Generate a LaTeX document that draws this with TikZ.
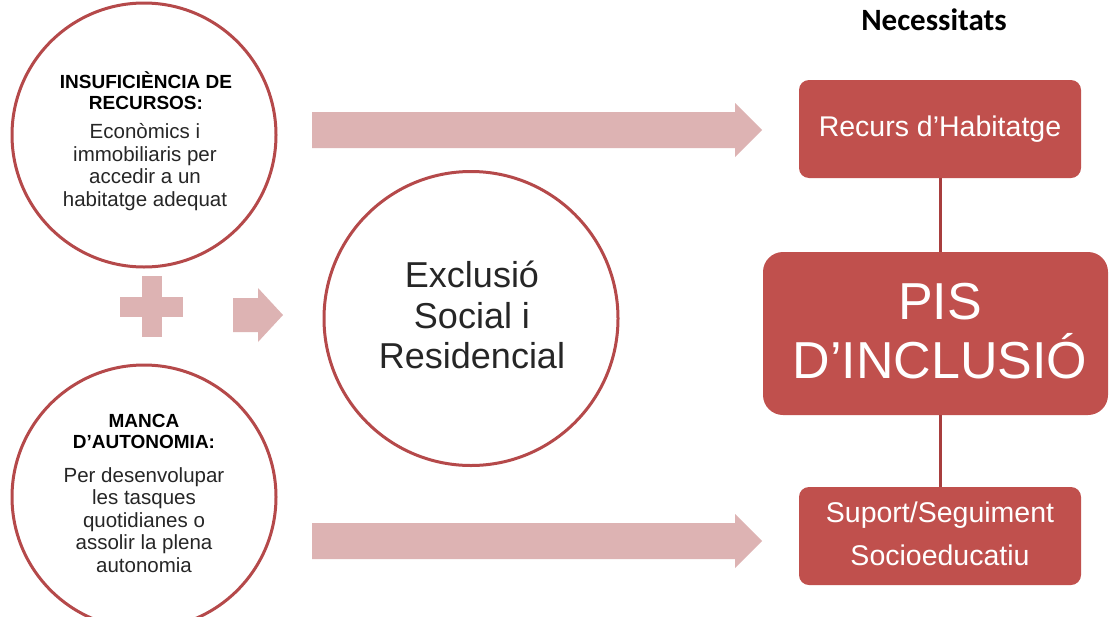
\documentclass[tikz,border=0pt]{standalone}
\usepackage{fontspec}
\setmainfont{Liberation Sans}
\newfontfamily\carl{Carlito}
\definecolor{ringred}{HTML}{B5494A}
\definecolor{boxred}{HTML}{C0504D}
\definecolor{lightpink}{HTML}{DDB3B3}
\definecolor{linered}{HTML}{A83E3E}
\begin{document}
\begin{tikzpicture}[x=1pt,y=-1pt,
  ring/.style={circle,draw=ringred,line width=3pt,fill=white,inner sep=0pt},
  needbox/.style={rounded corners=10pt,fill=boxred,draw=none},
  hdr/.style={font=\fontsize{19}{21}\selectfont\bfseries,align=center,inner sep=0pt},
  body/.style={font=\fontsize{20.5}{22.5}\selectfont,align=center,inner sep=0pt,text=black!85},
  whitetxt/.style={text=white,align=center,inner sep=0pt},
  fatarrow/.style={fill=lightpink,draw=none},
  link/.style={draw=linered,line width=3pt}]
\useasboundingbox (0,0) rectangle (1110,616);
\fill[white] (0,0) rectangle (1110,616);

% left circles
\node[ring,minimum size=264pt] (c1) at (144,135) {};
\node[hdr] (h1) at (146,91) {INSUFICIÈNCIA DE\\RECURSOS:};
\node[body] (b1) at (145,167) {Econòmics i\\immobiliaris per\\accedir a un\\habitatge adequat};

\node[ring,minimum size=264pt] (c2) at (144,497) {};
\node[hdr] (h2) at (144,431) {MANCA\\D’AUTONOMIA:};
\node[body] (b2) at (144,520) {Per desenvolupar\\les tasques\\quotidianes o\\assolir la plena\\autonomia};

% middle circle
\node[ring,minimum size=294pt] (mid) at (471,318.5) {};
\node[font=\fontsize{36}{40.5}\selectfont,align=center,text=black!85,inner sep=0pt] (midt) at (472,315) {Exclusió\\Social i\\Residencial};

% plus sign
\fill[lightpink] (120,297) rectangle (183,317);
\fill[lightpink] (142,276) rectangle (162,337);
% small arrow
\fill[fatarrow] (233,298) -- (258,298) -- (258,288) -- (283,315) -- (258,342) -- (258,332) -- (233,332) -- cycle;

% big arrows
\fill[fatarrow] (312,112) -- (735,112) -- (735,103) -- (762,130) -- (735,157) -- (735,148) -- (312,148) -- cycle;
\fill[fatarrow] (312,523) -- (735,523) -- (735,514) -- (762,541) -- (735,568) -- (735,559) -- (312,559) -- cycle;

% right boxes
\node[needbox,minimum width=282pt,minimum height=98pt] (rec) at (940,129) {};
\node[whitetxt,font=\fontsize{28.5}{30}\selectfont] (rect) at (940,129) {Recurs d’Habitatge};

\node[needbox,rounded corners=20pt,minimum width=345pt,minimum height=163pt] (pis) at (935.5,333.5) {};
\node[whitetxt,font=\fontsize{52}{59}\selectfont] (pist) at (940,331) {PIS\\D’INCLUSIÓ};

\node[needbox,minimum width=282pt,minimum height=98pt] (sup) at (940,536) {};
\node[whitetxt,font=\fontsize{28.5}{43}\selectfont] (supt) at (940,534) {Suport/Seguiment\\Socioeducatiu};

\draw[link] (rec.south) -- (rec.south |- pis.north);
\draw[link] (sup.north |- pis.south) -- (sup.north);

\node[font=\carl\fontsize{31}{33}\selectfont\bfseries,inner sep=0pt] (need) at (934,20) {Necessitats};
\end{tikzpicture}
\end{document}
